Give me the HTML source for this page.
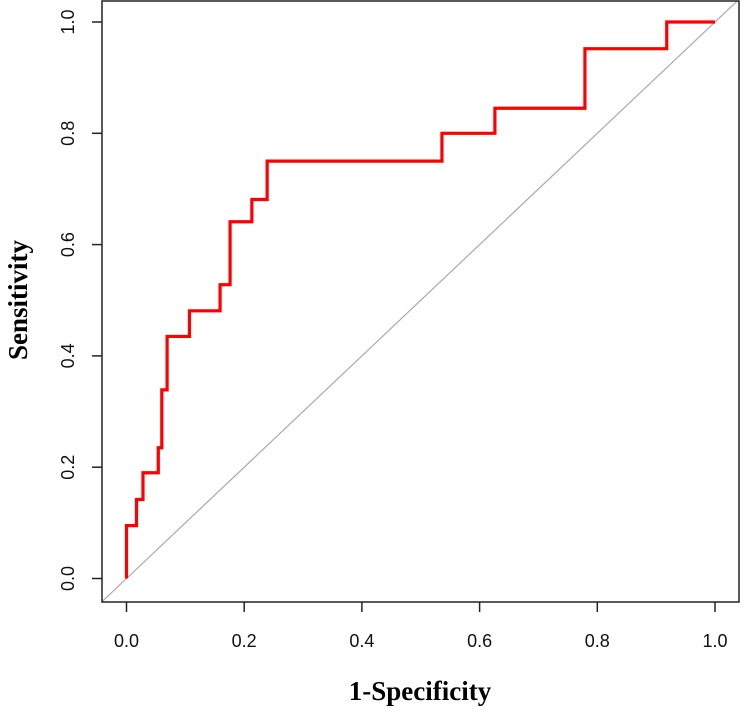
<!DOCTYPE html>
<html><head><meta charset="utf-8"><style>
html,body{margin:0;padding:0;background:#fff;width:744px;height:717px;overflow:hidden}
svg{display:block}
.tk{font-family:"Liberation Sans",sans-serif;font-size:18px;fill:#111}
.tt{font-family:"Liberation Serif",serif;font-size:27px;font-weight:bold;fill:#000}
</style></head><body>
<svg id="chart" width="744" height="717">
<defs><clipPath id="clip"><rect x="102" y="1" width="637" height="601"/></clipPath></defs>
<g id="diag" clip-path="url(#clip)"></g>
<g id="curve"></g>
<rect x="102" y="1" width="637" height="601" fill="none" stroke="#222" stroke-width="1.5"/>
<g id="axes"></g>
<text class="tt" x="420" y="700" text-anchor="middle">1-Specificity</text>
<text class="tt" transform="translate(27,300) rotate(-90)" text-anchor="middle">Sensitivity</text>
</svg>
<script>
const fpr = [0, 0, 0.017, 0.017, 0.028, 0.028, 0.054, 0.054, 0.060, 0.060, 0.069, 0.069, 0.107, 0.107, 0.159, 0.159, 0.176, 0.176, 0.213, 0.213, 0.239, 0.239, 0.536, 0.536, 0.626, 0.626, 0.779, 0.779, 0.918, 0.918, 1.0];
const tpr = [0, 0.095, 0.095, 0.142, 0.142, 0.190, 0.190, 0.235, 0.235, 0.339, 0.339, 0.435, 0.435, 0.481, 0.481, 0.528, 0.528, 0.641, 0.641, 0.681, 0.681, 0.750, 0.750, 0.800, 0.800, 0.845, 0.845, 0.952, 0.952, 1.0, 1.0];
const xTicks = [0, 0.2, 0.4, 0.6, 0.8, 1.0];
const yTicks = [0, 0.2, 0.4, 0.6, 0.8, 1.0];
const xTickLabels = ["0.0","0.2","0.4","0.6","0.8","1.0"];
const yTickLabels = ["0.0","0.2","0.4","0.6","0.8","1.0"];

const X = v => 126.5 + v * 588.5;
const Y = v => 578.5 - v * 556.5;
const NS = "http://www.w3.org/2000/svg";

const diag = document.createElementNS(NS, "line");
diag.setAttribute("x1", X(-0.1)); diag.setAttribute("y1", Y(-0.1));
diag.setAttribute("x2", X(1.1)); diag.setAttribute("y2", Y(1.1));
diag.setAttribute("stroke", "#aaa"); diag.setAttribute("stroke-width", "1.2");


document.getElementById("diag").appendChild(diag);

const path = document.createElementNS(NS, "polyline");
path.setAttribute("points", fpr.map((f, i) => X(f) + "," + Y(tpr[i])).join(" "));
path.setAttribute("fill", "none"); path.setAttribute("stroke", "#f00");
path.setAttribute("stroke-width", "3.2"); path.setAttribute("stroke-linejoin", "miter");


document.getElementById("curve").appendChild(path);

const axes = document.getElementById("axes");
xTicks.forEach((t, i) => {
  const l = document.createElementNS(NS, "line");
  l.setAttribute("x1", X(t)); l.setAttribute("x2", X(t));
  l.setAttribute("y1", 602); l.setAttribute("y2", 612);
  l.setAttribute("stroke", "#222"); l.setAttribute("stroke-width", "1.5");
  
  
  axes.appendChild(l);
  const tx = document.createElementNS(NS, "text");
  tx.setAttribute("x", X(t)); tx.setAttribute("y", 647);
  tx.setAttribute("text-anchor", "middle"); tx.setAttribute("class", "tk");
  tx.textContent = xTickLabels[i];
  
  
  axes.appendChild(tx);
});
yTicks.forEach((t, i) => {
  const l = document.createElementNS(NS, "line");
  l.setAttribute("x1", 92); l.setAttribute("x2", 102);
  l.setAttribute("y1", Y(t)); l.setAttribute("y2", Y(t));
  l.setAttribute("stroke", "#222"); l.setAttribute("stroke-width", "1.5");
  
  
  axes.appendChild(l);
  const tx = document.createElementNS(NS, "text");
  tx.setAttribute("transform", "translate(74," + Y(t) + ") rotate(-90)");
  tx.setAttribute("text-anchor", "middle"); tx.setAttribute("class", "tk");
  tx.textContent = yTickLabels[i];
  
  
  axes.appendChild(tx);
});
</script>
</body></html>
